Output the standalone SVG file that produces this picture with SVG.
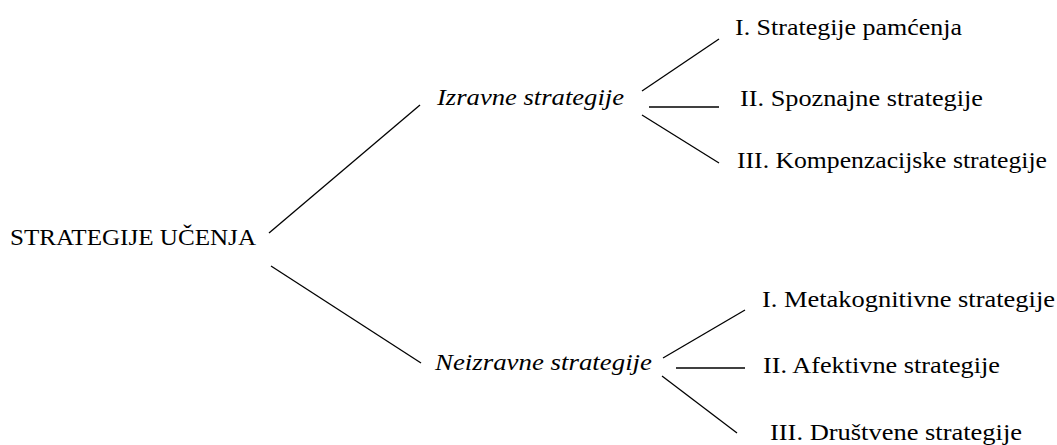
<svg xmlns="http://www.w3.org/2000/svg" width="1057" height="445" viewBox="0 0 1057 445">
<style>
text{font-family:'Times New Roman','Liberation Serif',Tinos,serif;fill:#000;font-size:23px}
.it{font-style:italic}
.root{font-size:24px}
line{stroke:#000;stroke-width:1.3}
</style>
<rect width="1057" height="445" fill="#fff"/>
<g id="connectors">
<line x1="269" y1="233" x2="420" y2="105"/>
<line x1="271" y1="266" x2="421" y2="363"/>
<line x1="642" y1="91" x2="719" y2="39"/>
<line x1="649" y1="107" x2="719" y2="107"/>
<line x1="642" y1="115" x2="719" y2="163"/>
<line x1="663" y1="358" x2="745" y2="310"/>
<line x1="676" y1="368" x2="745" y2="368"/>
<line x1="662" y1="376" x2="737" y2="433"/>
</g>
<g id="root"><text class="root" x="10" y="245" textLength="246" lengthAdjust="spacingAndGlyphs">STRATEGIJE UČENJA</text></g>
<g id="izravne"><text class="it" x="437" y="105" textLength="187" lengthAdjust="spacingAndGlyphs">Izravne strategije</text></g>
<g id="neizravne"><text class="it" x="435" y="370" textLength="217" lengthAdjust="spacingAndGlyphs">Neizravne strategije</text></g>
<g id="i1"><text x="735" y="35" textLength="227" lengthAdjust="spacingAndGlyphs">I. Strategije pamćenja</text></g>
<g id="i2"><text x="740" y="106" textLength="243" lengthAdjust="spacingAndGlyphs">II. Spoznajne strategije</text></g>
<g id="i3"><text x="737" y="168" textLength="310" lengthAdjust="spacingAndGlyphs">III. Kompenzacijske strategije</text></g>
<g id="n1"><text x="762" y="307" textLength="293" lengthAdjust="spacingAndGlyphs">I. Metakognitivne strategije</text></g>
<g id="n2"><text x="763" y="373" textLength="237" lengthAdjust="spacingAndGlyphs">II. Afektivne strategije</text></g>
<g id="n3"><text x="770" y="440" textLength="252" lengthAdjust="spacingAndGlyphs">III. Društvene strategije</text></g>
</svg>
